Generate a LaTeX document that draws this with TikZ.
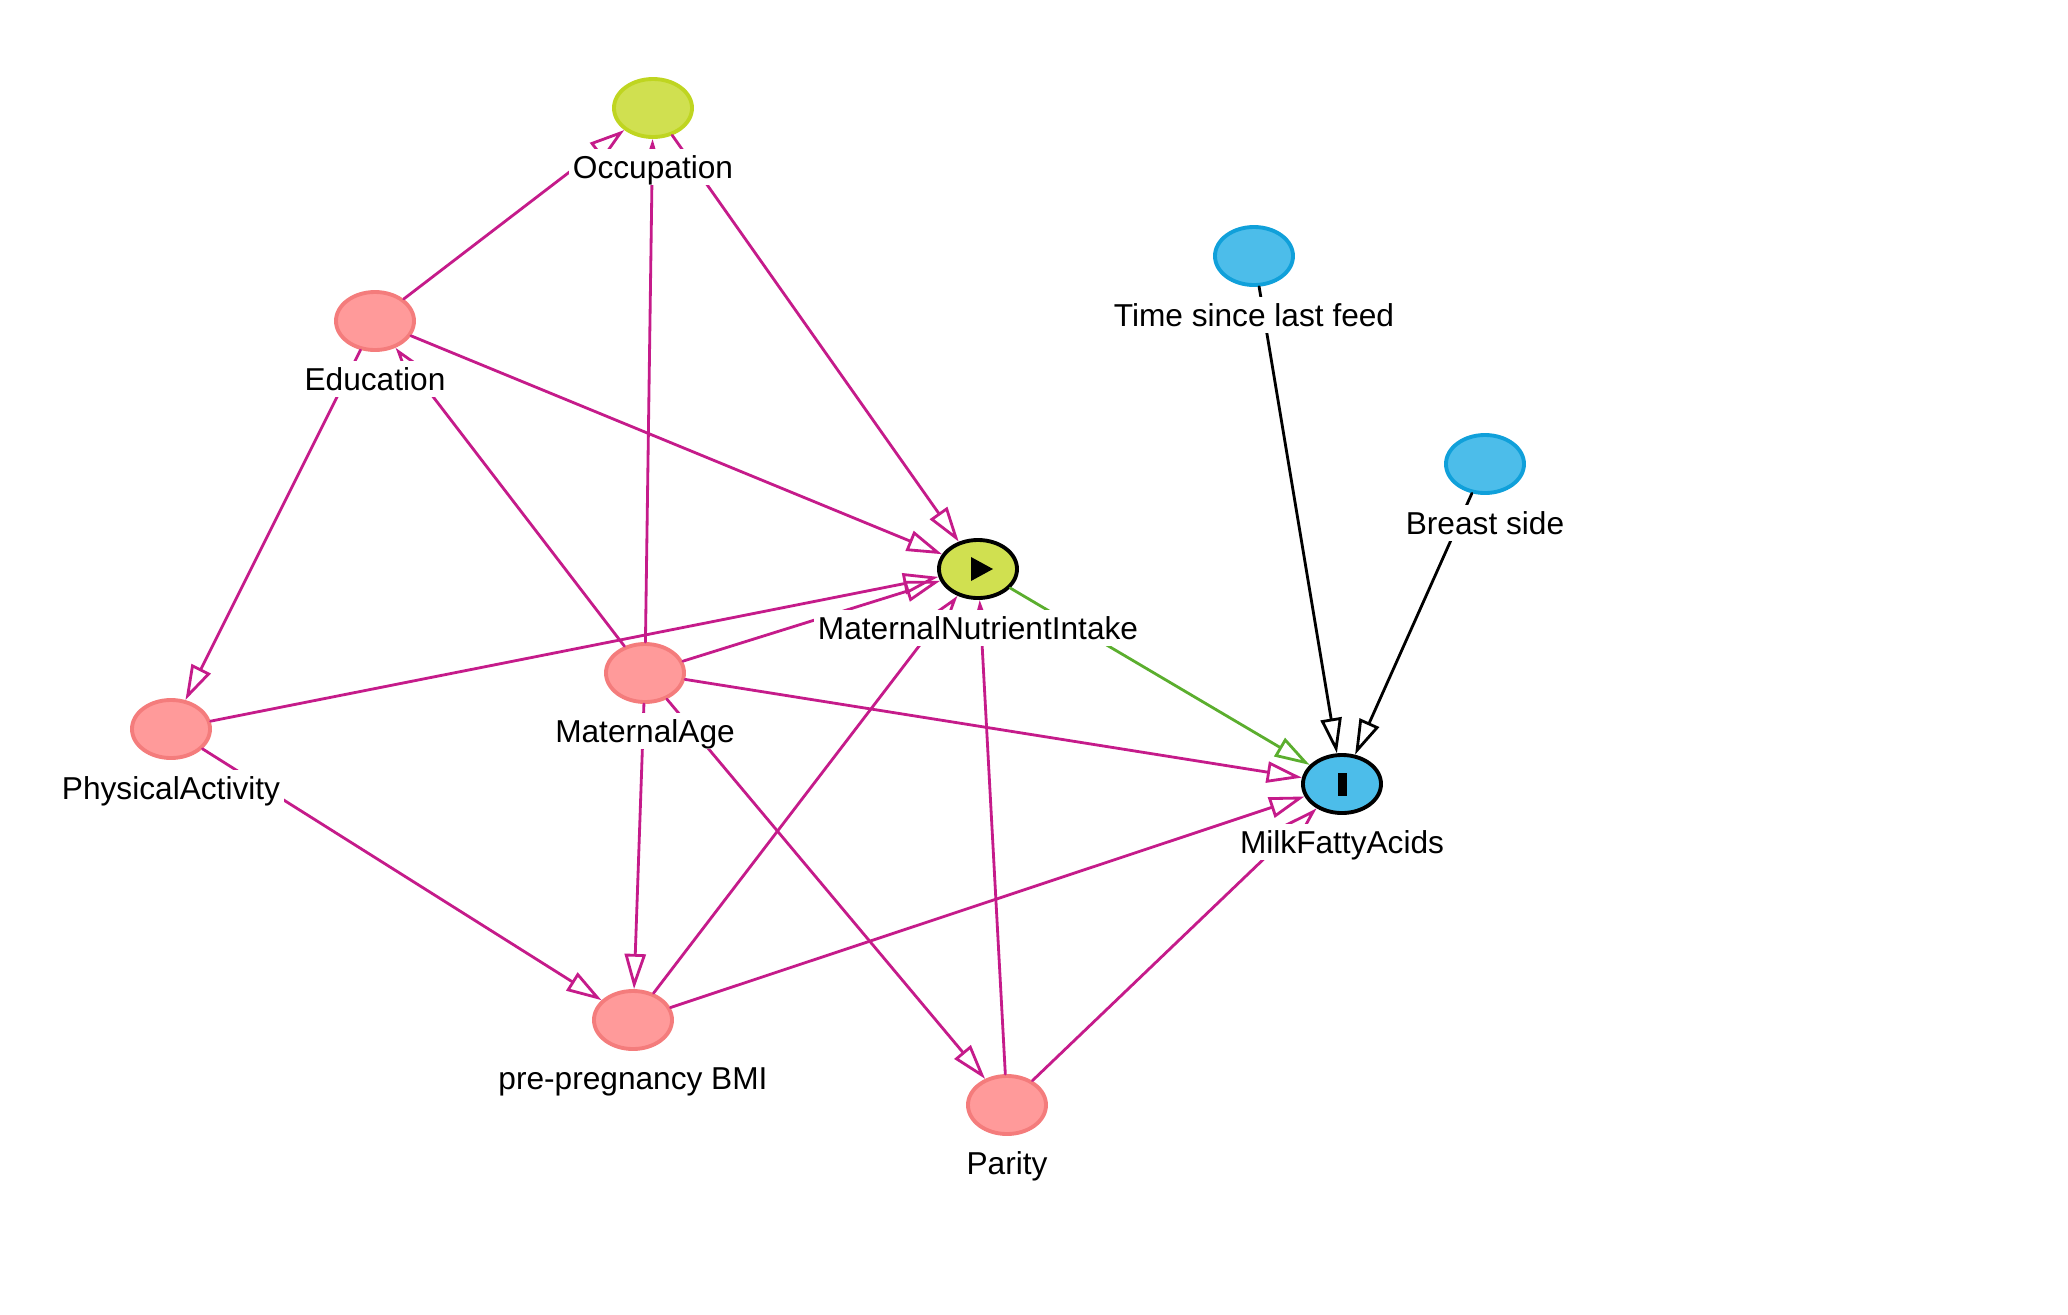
\documentclass[tikz,border=0pt]{standalone}
\usepackage{fontspec}
\setmainfont{Liberation Sans}
\usetikzlibrary{arrows.meta,shapes.geometric}

\definecolor{conffill}{HTML}{FF9A9A}
\definecolor{confline}{HTML}{F47C7C}
\definecolor{expfill}{HTML}{D0E050}
\definecolor{expline}{HTML}{BFD520}
\definecolor{outfill}{HTML}{4CBDEA}
\definecolor{outline}{HTML}{10A0DA}
\definecolor{biascol}{HTML}{C51B8A}
\definecolor{causalcol}{HTML}{5BAE2E}

\begin{document}
\begin{tikzpicture}[x=0.01cm, y=-0.01cm, line cap=round, line join=round,
    var/.style={ellipse, minimum width=0.78cm, minimum height=0.58cm, inner sep=0pt, line width=1.1pt},
    conf/.style={var, draw=confline, fill=conffill},
    anc/.style={var, draw=expline, fill=expfill},
    outanc/.style={var, draw=outline, fill=outfill},
    lbl/.style={fill=white, anchor=base, inner xsep=1pt, inner ysep=0pt, text height=2.9mm, text depth=0.7mm, font=\fontsize{9pt}{11pt}\selectfont},
    edge/.style={line width=0.8pt, -{Triangle[open, length=10pt, width=6pt]}},
    bias/.style={edge, draw=biascol},
    causal/.style={edge, draw=causalcol},
    plain/.style={edge, draw=black}]

                \useasboundingbox (0,0) rectangle (2068,1314);

                \node[anc] (occ) at (653,108) {};
                \node[conf] (edu) at (375,321) {};
                \node[outanc] (tslf) at (1254,256) {};
                \node[outanc] (bs) at (1485,464) {};
                \node[var, draw=black, fill=expfill] (mni) at (978,569) {};
                \node[conf] (age) at (645,673) {};
                \node[conf] (pa) at (171,729) {};
                \node[var, draw=black, fill=outfill] (mfa) at (1342,784) {};
                \node[conf] (bmi) at (633,1020) {};
                \node[conf] (par) at (1007,1105) {};

                \fill (mni.center) ++(-7,-12) -- ++(22,12) -- ++(-22,12) -- cycle;
                \fill (mfa.center) ++(-4.5,-11.5) rectangle ++(9,23);

                \draw[bias] (edu) -- (occ);
                \draw[bias] (age) -- (occ);
                \draw[bias] (occ) -- (mni);
                \draw[bias] (age) -- (edu);
                \draw[bias] (edu) -- (mni);
                \draw[bias] (edu) -- (pa);
                \draw[bias] (pa) -- (mni);
                \draw[bias] (age) -- (mni);
                \draw[bias] (age) -- (mfa);
                \draw[bias] (age) -- (bmi);
                \draw[bias] (age) -- (par);
                \draw[bias] (pa) -- (bmi);
                \draw[bias] (bmi) -- (mni);
                \draw[bias] (bmi) -- (mfa);
                \draw[bias] (par) -- (mni);
                \draw[bias] (par) -- (mfa);
                \draw[causal] (mni) -- (mfa);
                \draw[plain] (tslf) -- (mfa);
                \draw[plain] (bs) -- (mfa);

                \node[lbl] (occ-l) at (653,178) {Occupation};
                \node[lbl] (edu-l) at (375,390) {Education};
                \node[lbl] (tslf-l) at (1254,326) {Time since last feed};
                \node[lbl] (bs-l) at (1485,534) {Breast side};
                \node[lbl] (mni-l) at (978,639) {MaternalNutrientIntake};
                \node[lbl] (age-l) at (645,742) {MaternalAge};
                \node[lbl] (pa-l) at (171,799) {PhysicalActivity};
                \node[lbl] (mfa-l) at (1342,853) {MilkFattyAcids};
                \node[lbl] (bmi-l) at (633,1089) {pre-pregnancy BMI};
                \node[lbl] (par-l) at (1007,1174) {Parity};

            \end{tikzpicture}
\end{document}
